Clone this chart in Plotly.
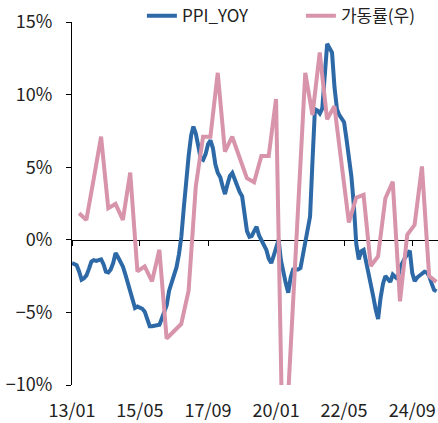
import plotly.graph_objects as go
import pandas as pd

# PPI YoY (%), monthly from 2013-01
ppi_start = "2013-01-01"
ppi_yoy = [
    -1.6, -1.65, -1.75, -2.2, -2.75, -2.65, -2.45, -2.0, -1.5, -1.4, -1.45, -1.4,
    -1.35, -1.7, -2.2, -2.25, -2.05, -1.6, -0.9, -1.2, -1.5, -1.85, -2.4, -3.0,
    -3.6, -4.2, -4.7, -4.6, -4.65, -4.75, -4.95, -5.5, -5.95, -5.95, -5.9, -5.9,
    -5.85, -5.4, -4.9, -4.5, -3.5, -2.9, -2.4, -1.9, -1.0, 0.2, 2.2, 4.2,
    5.8, 7.2, 7.8, 7.3, 6.5, 5.6, 5.5, 5.9, 6.6, 6.85, 6.3, 5.2,
    4.6, 4.3, 3.7, 3.15, 3.8, 4.4, 4.6, 4.1, 3.6, 3.3, 3.0, 2.0,
    0.6, 0.2, 0.25, 0.6, 0.9, 0.3, 0.0, -0.3, -0.7, -1.3, -1.6, -1.1,
    -0.6, 0.0, -1.4, -2.3, -3.0, -3.65, -2.6, -2.05, -2.05, -2.05, -1.95, -1.0,
    0.0, 0.8, 1.6, 5.5, 9.0, 8.9, 8.7, 9.05, 11.2, 13.5, 13.2, 12.9,
    10.5, 9.0, 8.6, 8.3, 8.1, 6.9, 5.5, 4.35, 2.3, -0.3, -1.35, -0.8,
    -0.7, -1.5, -2.05, -3.0, -3.9, -4.8, -5.45, -4.0, -3.0, -2.5, -2.75, -2.9,
    -2.4, -2.6, -2.7, -1.9, -1.5, -1.25, -1.0, -0.75, -2.3, -2.85, -2.6, -2.45,
    -2.3, -2.2, -2.25, -2.5, -3.0, -3.45, -3.55,
]

# Operating rate YoY (%), quarterly (quarter-end) from 2013-03
util_start = "2013-03-31"
util_yoy = [
    1.83, 1.37, 4.2, 7.1,
    2.18, 2.47, 1.37, 4.63,
    -2.18, -1.83, -2.86, -0.69,
    -6.8, -6.3, -5.8, -3.5,
    3.67, 7.1, 7.1, 11.5,
    6.07, 7.1, 5.7, 4.24,
    3.96, 5.77, 5.77, 9.7,
    -17.0, -7.5, 2.0, 11.5,
    8.6, 12.9, 8.3, 9.2,
    5.2, 1.2, 2.9, 3.1,
    -1.8, -1.15, 2.86, 4.0,
    -4.24, 0.34, 1.03, 5.05,
    -2.5, -2.9,
]

tick_dates = ["2013-01-01", "2015-05-01", "2017-09-01", "2020-01-01", "2022-05-01", "2024-09-01"]
tick_text = ["13/01", "15/05", "17/09", "20/01", "22/05", "24/09"]
y_ticks = [-10, -5, 0, 5, 10, 15]
y_tick_text = ["\u221210%", "\u22125%", "0%", "5%", "10%", "15%"]

x_range = ["2013-01-01", "2025-07-20"]
y_range = [-10, 15]

ppi_dates = pd.date_range(ppi_start, periods=len(ppi_yoy), freq="MS")
util_dates = pd.date_range(util_start, periods=len(util_yoy), freq="QE")

BLUE = "#2D69A6"
PINK = "#D794AA"
FONT = "Noto Sans CJK KR, Noto Sans, sans-serif"

fig = go.Figure()
fig.add_trace(go.Scatter(x=ppi_dates, y=ppi_yoy, mode="lines", name="PPI_YOY",
                         line=dict(color=BLUE, width=4), xaxis="x", yaxis="y"))
fig.add_trace(go.Scatter(x=util_dates, y=util_yoy, mode="lines", name="가동률(우)",
                         line=dict(color=PINK, width=4), xaxis="x", yaxis="y2"))
# helper (empty) trace so the zero-line tick axis is drawn
fig.add_trace(go.Scatter(x=[], y=[], xaxis="x2", yaxis="y", showlegend=False,
                         hoverinfo="skip"))

fig.update_layout(
    width=438, height=423,
    margin=dict(l=72, r=0, t=22, b=38, autoexpand=False),
    paper_bgcolor="white", plot_bgcolor="white",
    font=dict(family=FONT, size=18, color="#222222"),
    showlegend=True,
    legend=dict(orientation="h", x=0.191, y=1.016, xanchor="left", yanchor="middle",
                font=dict(size=17, family=FONT, color="#222222"),
                bgcolor="rgba(0,0,0,0)", entrywidth=114, entrywidthmode="pixels",
                traceorder="normal"),
    xaxis=dict(type="date", range=x_range, tickvals=tick_dates, ticktext=tick_text,
               showline=False, showgrid=False, zeroline=False, ticks="",
               ticklabelstandoff=13, tickfont=dict(size=18), automargin=False),
    xaxis2=dict(type="date", range=x_range, overlaying="x", anchor="free",
                position=(0 - y_range[0]) / (y_range[1] - y_range[0]),
                tickvals=tick_dates, showticklabels=False, ticks="outside",
                ticklen=5, tickcolor="black", tickwidth=1,
                showline=True, linecolor="black", linewidth=1,
                showgrid=False, zeroline=False, layer="below traces"),
    yaxis=dict(range=y_range, tickvals=y_ticks, ticktext=y_tick_text,
               showline=True, linecolor="black", linewidth=1,
               ticks="outside", ticklen=5, tickcolor="black",
               showgrid=False, zeroline=False, ticklabelstandoff=10,
               tickfont=dict(size=18), automargin=False),
    yaxis2=dict(range=y_range, overlaying="y", side="right", visible=False,
                showgrid=False, zeroline=False),
)

fig.write_html("out.html", config={"displayModeBar": False},
               post_script="document.body.style.margin='0';")
